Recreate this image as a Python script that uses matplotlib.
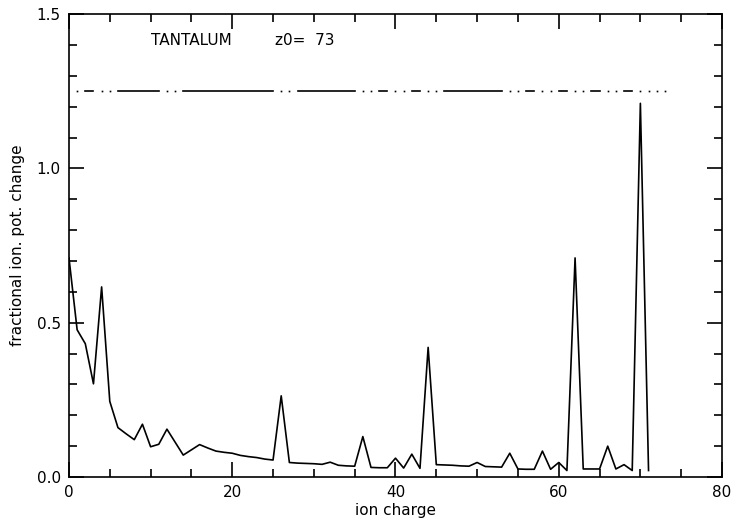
import matplotlib
matplotlib.use("Agg")
import matplotlib.pyplot as plt
import numpy as np
from matplotlib.ticker import MultipleLocator

# fractional ionisation potential change vs ion charge (tantalum, z0 = 73)
ion_charge = list(range(0, 72))
frac_change = [
    0.710, 0.477, 0.432, 0.302, 0.616, 0.245, 0.160, 0.140, 0.121, 0.171,
    0.098, 0.106, 0.155, 0.113, 0.071, 0.088, 0.105, 0.094, 0.084, 0.080,
    0.077, 0.070, 0.066, 0.063, 0.058, 0.055, 0.263, 0.047, 0.045, 0.044,
    0.043, 0.041, 0.048, 0.038, 0.036, 0.035, 0.131, 0.031, 0.030, 0.030,
    0.061, 0.029, 0.074, 0.028, 0.420, 0.040, 0.039, 0.038, 0.036, 0.035,
    0.047, 0.034, 0.033, 0.032, 0.077, 0.026, 0.025, 0.025, 0.084, 0.025,
    0.047, 0.021, 0.710, 0.026, 0.026, 0.026, 0.100, 0.026, 0.040, 0.021,
    1.211, 0.021,
]

# shell marker row at the top: solid runs and single dots
shell_level = 1.25
shell_runs = [(2, 3), (6, 11), (14, 25), (28, 35), (38, 39), (42, 43),
              (46, 53), (56, 57), (60, 61), (64, 65), (68, 69)]
shell_dots = [1, 4, 5, 12, 13, 26, 27, 36, 37, 40, 41, 44, 45, 54, 55,
              58, 59, 62, 63, 66, 67, 70, 71, 72, 73]

element = "TANTALUM"
z0 = 73

fig = plt.figure(figsize=(7.33, 5.24), dpi=100)
ax = fig.add_axes([0.0941, 0.0897, 0.8909, 0.8833])

ax.plot(ion_charge, frac_change, color="black", linewidth=1.2)

for x0, x1 in shell_runs:
    ax.plot([x0, x1], [shell_level, shell_level], color="black", linewidth=1.2)
ax.plot(shell_dots, [shell_level] * len(shell_dots), linestyle="none",
        marker="s", markersize=1.2, color="black", markeredgewidth=0)

ax.text(10, 1.40, element, fontsize=11)
ax.text(25.2, 1.40, "z0=  %d" % z0, fontsize=11)

ax.set_xlim(0, 80)
ax.set_ylim(0, 1.5)
ax.xaxis.set_major_locator(MultipleLocator(20))
ax.xaxis.set_minor_locator(MultipleLocator(5))
ax.yaxis.set_major_locator(MultipleLocator(0.5))
ax.yaxis.set_minor_locator(MultipleLocator(0.1))
ax.tick_params(which="both", direction="in", top=True, right=True,
               labelsize=11, width=1.2)
ax.tick_params(which="major", length=11, pad=6)
ax.tick_params(which="minor", length=6)
ax.yaxis.set_major_formatter(matplotlib.ticker.FormatStrFormatter("%.1f"))
for s in ax.spines.values():
    s.set_linewidth(1.2)

ax.set_xlabel("ion charge", fontsize=11, labelpad=2)
ax.set_ylabel("fractional ion. pot. change", fontsize=11, labelpad=8)

fig.savefig("out.png", dpi=100)
